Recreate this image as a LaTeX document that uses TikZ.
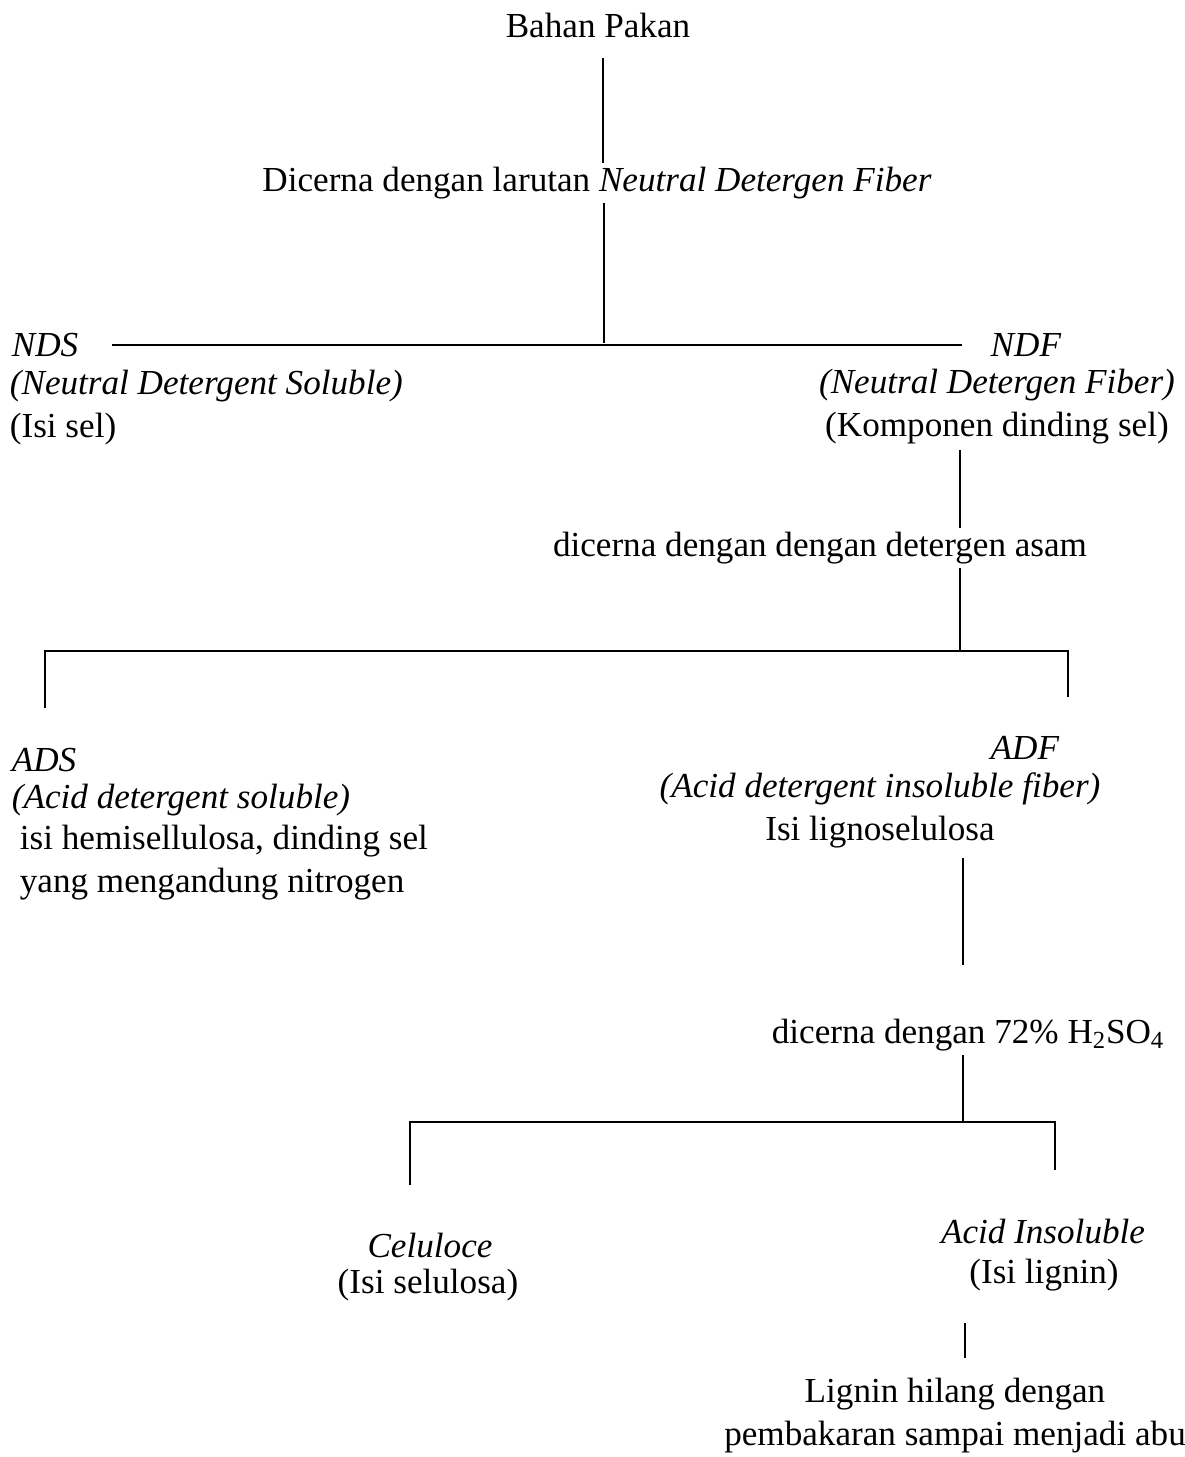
\documentclass[tikz,border=0pt]{standalone}
\usepackage{fontspec}
\setmainfont{Liberation Serif}
\begin{document}
\begin{tikzpicture}[x=0.02cm, y=-0.02cm,
  every node/.style={font=\fontsize{20}{24.5}\selectfont, inner sep=2pt},
  ln/.style={line width=1.3pt, color=black}]
\useasboundingbox (0,0) rectangle (1185,1457);
% level 0
\node (0) at (598, 25) {Bahan Pakan};
\node (1) at (597, 183) {Dicerna dengan larutan \textit{Neutral Detergen Fiber}};
\coordinate (0a) at (603, 58);
\coordinate (1j) at (604, 343);
% NDS / NDF
\node[anchor=west] (2) at (8, 345) {\textit{NDS}};
\node[anchor=north west, align=left] (2x) at (6, 366) {\textit{(Neutral Detergent Soluble)}\\(Isi sel)};
\node (3) at (1026, 345) {\textit{NDF}};
\node[align=center] (3x) at (997, 407) {\textit{(Neutral Detergen Fiber)}\\(Komponen dinding sel)};
\coordinate (3a) at (960, 450);
\node (4) at (820, 548) {dicerna dengan dengan detergen asam};
\coordinate (4a) at (960, 651);
% ADS / ADF
\coordinate (5t) at (45, 708);
\coordinate (6t) at (1068, 697);
\node[anchor=west] (5) at (8, 760) {\textit{ADS}};
\node[anchor=west] (5x) at (8, 800) {\textit{(Acid detergent soluble)}};
\node[anchor=north west, align=left] (5y) at (16, 821) {isi hemisellulosa, dinding sel\\yang mengandung nitrogen};
\node (6) at (1025, 748) {\textit{ADF}};
\node[align=center] (6x) at (880, 810) {\textit{(Acid detergent insoluble fiber)}\\Isi lignoselulosa};
\coordinate (6a) at (963, 858);
\coordinate (6b) at (963, 965);
\node (7) at (968, 1035) {dicerna dengan 72\% H\textsubscript{2}SO\textsubscript{4}};
\coordinate (7a) at (963, 1122);
% Celuloce / Acid Insoluble
\coordinate (8t) at (410, 1185);
\coordinate (9t) at (1055, 1170);
\node (8) at (430, 1245) {\textit{Celuloce}};
\node (8x) at (428, 1285) {(Isi selulosa)};
\node (9) at (1043, 1232) {\textit{Acid Insoluble}};
\node (9x) at (1044, 1275) {(Isi lignin)};
\coordinate (9a) at (965, 1323);
\coordinate (9b) at (965, 1358);
\node[align=center] (10) at (955, 1416) {Lignin hilang dengan\\pembakaran sampai menjadi abu};
% lines
\draw[ln] (0a) -- (0a |- 1.north);
\draw[ln] (1j |- 1.south) -- (1j);
\draw[ln, shorten <=0.6cm, shorten >=0.5cm] (2) -- (3);
\draw[ln] (3a) -- (3a |- 4.north);
\draw[ln] (3a |- 4.south) -- (4a);
\draw[ln] (5t) |- (4a) -| (6t);
\draw[ln] (6a) -- (6b);
\draw[ln] (6a |- 7.south) -- (7a);
\draw[ln] (8t) |- (7a) -| (9t);
\draw[ln] (9a) -- (9b);
\end{tikzpicture}
\end{document}
